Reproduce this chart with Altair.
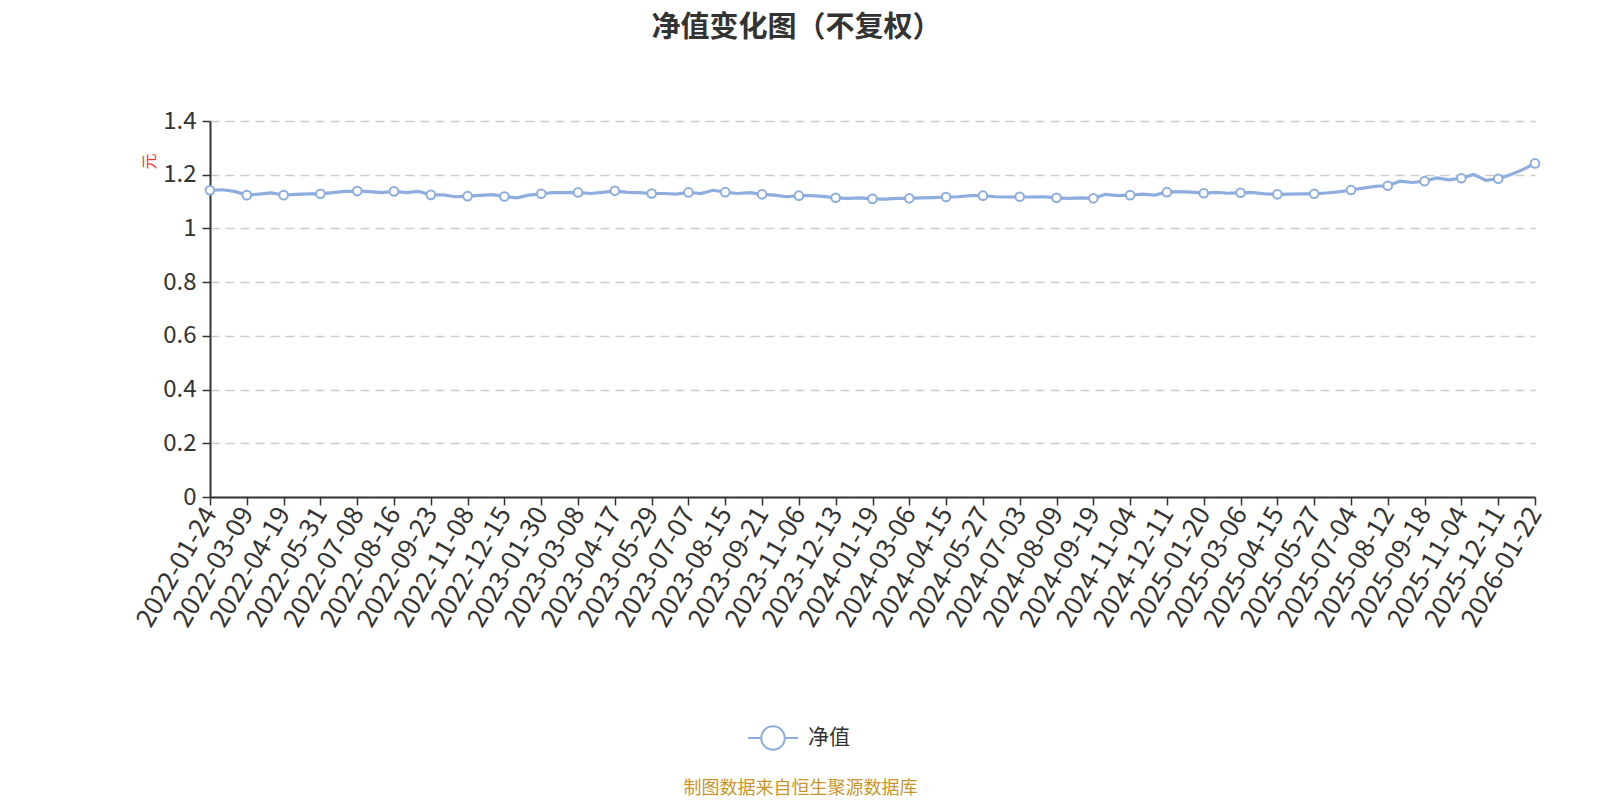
import json
import altair as alt
import pandas as pd

# labelled trading dates (category axis ticks)
dates = ["2022-01-24", "2022-03-09", "2022-04-19", "2022-05-31", "2022-07-08", "2022-08-16",
         "2022-09-23", "2022-11-08", "2022-12-15", "2023-01-30", "2023-03-08", "2023-04-17",
         "2023-05-29", "2023-07-07", "2023-08-15", "2023-09-21", "2023-11-06", "2023-12-13",
         "2024-01-19", "2024-03-06", "2024-04-15", "2024-05-27", "2024-07-03", "2024-08-09",
         "2024-09-19", "2024-11-04", "2024-12-11", "2025-01-20", "2025-03-06", "2025-04-15",
         "2025-05-27", "2025-07-04", "2025-08-12", "2025-09-18", "2025-11-04", "2025-12-11",
         "2026-01-22"]

# net value at each labelled date
nav_main = [1.142, 1.124, 1.124, 1.129, 1.139, 1.138, 1.125, 1.120, 1.119, 1.129,
            1.134, 1.140, 1.130, 1.134, 1.135, 1.127, 1.122, 1.114, 1.110, 1.112,
            1.117, 1.122, 1.118, 1.114, 1.112, 1.124, 1.135, 1.131, 1.133, 1.127,
            1.129, 1.143, 1.159, 1.176, 1.187, 1.185, 1.242]

# net values between labelled dates (roughly 1/3 and 2/3 of each interval)
nav_mid_a = [1.144, 1.128, 1.127, 1.133, 1.137, 1.133, 1.125, 1.123, 1.114, 1.133,
             1.130, 1.134, 1.130, 1.130, 1.130, 1.124, 1.122, 1.112, 1.109, 1.114,
             1.118, 1.118, 1.117, 1.112, 1.127, 1.128, 1.137, 1.134, 1.133, 1.128,
             1.132, 1.150, 1.176, 1.188, 1.201, 1.200]
nav_mid_b = [1.138, 1.132, 1.129, 1.138, 1.133, 1.138, 1.118, 1.126, 1.124, 1.133,
             1.134, 1.133, 1.128, 1.142, 1.133, 1.118, 1.119, 1.114, 1.112, 1.115,
             1.122, 1.117, 1.118, 1.114, 1.122, 1.124, 1.135, 1.131, 1.129, 1.129,
             1.136, 1.157, 1.171, 1.181, 1.179, 1.219]

series_name = "净值"
y_ticks = [0, 0.2, 0.4, 0.6, 0.8, 1.0, 1.2, 1.4]

rows = []
for i, v in enumerate(nav_main):
    rows.append({"idx": 3 * i, "nav": v, "series": series_name, "labelled": True})
    if i < len(nav_mid_a):
        rows.append({"idx": 3 * i + 1, "nav": nav_mid_a[i], "series": series_name, "labelled": False})
        rows.append({"idx": 3 * i + 2, "nav": nav_mid_b[i], "series": series_name, "labelled": False})
df = pd.DataFrame(rows)

LINE = "#8dadde"
FONT = "Noto Sans CJK SC"
tick_vals = [3 * i for i in range(len(dates))]
label_expr = json.dumps(dates) + "[round(datum.value / 3)]"

x_enc = alt.X(
    "idx:Q",
    scale=alt.Scale(domain=[0, tick_vals[-1]], nice=False, zero=False),
    axis=alt.Axis(
        values=tick_vals, tickCount=100, labelExpr=label_expr, labelAngle=-60,
        labelAlign="right", labelBaseline="middle", labelFontSize=26, labelColor="#333",
        labelPadding=4, labelOverlap=False, labelFont=FONT, labelLimit=300,
        grid=False, domainColor="#333", domainWidth=2, tickColor="#333", tickWidth=1.5,
        tickSize=8,
        title="制图数据来自恒生聚源数据库", titleColor="#c8962d", titleFontSize=18,
        titleFontWeight="normal", titleFont=FONT, titleX=590, titleY=291,
        titleAlign="center", titleBaseline="middle", titleAngle=0,
    ),
)
y_enc = alt.Y(
    "nav:Q",
    scale=alt.Scale(domain=[0, 1.4], nice=False),
    axis=alt.Axis(
        values=y_ticks, tickCount=20, format=".1~f", labelFontSize=24, labelColor="#333",
        labelFont=FONT, labelPadding=6, grid=True, gridColor="#cccccc", gridDash=[9, 6],
        gridWidth=1.5, domainColor="#333", domainWidth=2, tickColor="#333", tickWidth=1.5,
        tickSize=8,
        title="元", titleColor="#ff3333", titleFontSize=16, titleFontWeight="normal",
        titleFont=FONT, titleX=-61, titleY=40, titleAngle=-90, titleAlign="center",
        titleBaseline="middle",
    ),
)

legend_path = ("M-1,0L-0.47,0M0.47,0L1,0M-0.47,0A0.47,0.47,0,1,1,0.47,0"
               "A0.47,0.47,0,1,1,-0.47,0Z")
color_enc = alt.Color(
    "series:N",
    scale=alt.Scale(domain=[series_name], range=[LINE]),
    legend=alt.Legend(
        title=None, orient="none", legendX=537, legendY=591, symbolType=legend_path,
        symbolSize=2500, symbolStrokeWidth=2, symbolFillColor="white",
        symbolStrokeColor=LINE, labelFontSize=21, labelColor="#333", labelFont=FONT,
        labelOffset=9,
    ),
)

line = alt.Chart(df).mark_line(strokeWidth=3.2, interpolate="linear").encode(
    x=x_enc, y=y_enc, color=color_enc
)
points = alt.Chart(df).transform_filter("datum.labelled").mark_point(
    filled=True, fill="white", stroke=LINE, strokeWidth=2, size=75, opacity=1
).encode(x="idx:Q", y="nav:Q")

chart = alt.layer(line, points).properties(
    width=1325, height=376,
    autosize=alt.AutoSizeParams(type="none"),
    padding={"left": 202, "top": 113, "right": 57, "bottom": 303},
    title=alt.TitleParams(
        text="净值变化图（不复权）", anchor="middle", frame="group", dx=-76,
        fontSize=29, fontWeight="bold", color="#333", font=FONT, offset=66,
    ),
).configure(font=FONT).configure_view(stroke=None)

chart.save("out.html", embed_options={"renderer": "svg", "actions": False})
